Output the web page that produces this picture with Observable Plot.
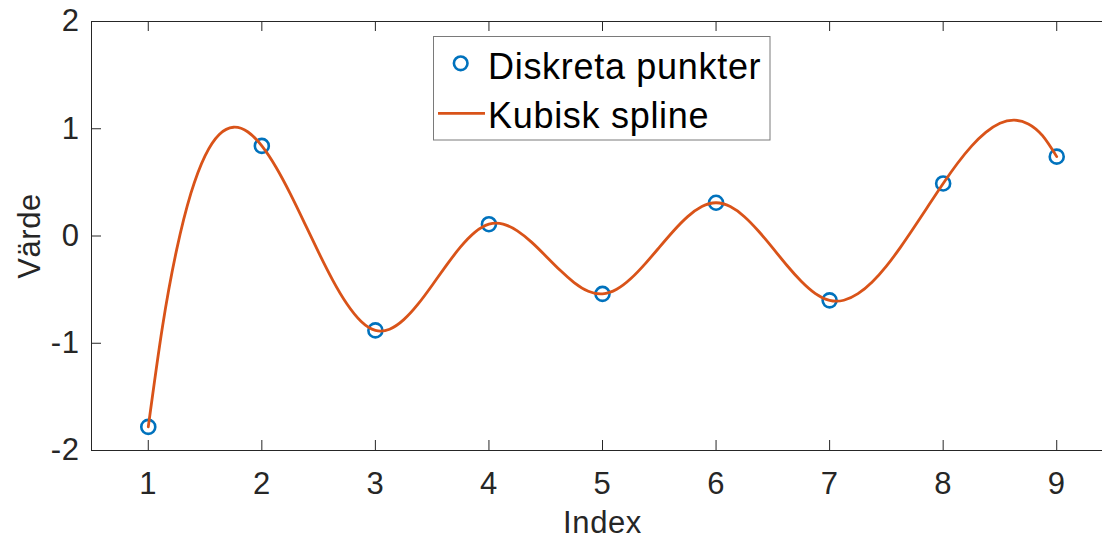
<!DOCTYPE html>
<html>
<head>
<meta charset="utf-8">
<script src="https://cdn.jsdelivr.net/npm/d3@7"></script>
<script src="https://cdn.jsdelivr.net/npm/@observablehq/plot@0.6"></script>
<style>
  html, body { margin: 0; padding: 0; background: #ffffff; }
  #chart { width: 1102px; height: 538px; overflow: hidden; }
</style>
</head>
<body>
<div id="chart"></div>
<script>
// Discrete samples
const pointIndex = [1, 2, 3, 4, 5, 6, 7, 8, 9];
const pointValue = [-1.78, 0.84, -0.88, 0.11, -0.54, 0.31, -0.60, 0.49, 0.74];

// Cubic spline through the samples, evaluated every 1/8 of an index step
const splineX = [1, 1.125, 1.25, 1.375, 1.5, 1.625, 1.75, 1.875,
                 2, 2.125, 2.25, 2.375, 2.5, 2.625, 2.75, 2.875,
                 3, 3.125, 3.25, 3.375, 3.5, 3.625, 3.75, 3.875,
                 4, 4.125, 4.25, 4.375, 4.5, 4.625, 4.75, 4.875,
                 5, 5.125, 5.25, 5.375, 5.5, 5.625, 5.75, 5.875,
                 6, 6.125, 6.25, 6.375, 6.5, 6.625, 6.75, 6.875,
                 7, 7.125, 7.25, 7.375, 7.5, 7.625, 7.75, 7.875,
                 8, 8.125, 8.25, 8.375, 8.5, 8.625, 8.75, 8.875, 9];
const splineY = [-1.78, -0.846, -0.127, 0.397, 0.748, 0.947, 1.014, 0.972,
                 0.84, 0.641, 0.395, 0.123, -0.153, -0.413, -0.634, -0.797,
                 -0.88, -0.869, -0.780, -0.636, -0.459, -0.274, -0.102, 0.034,
                 0.11, 0.111, 0.048, -0.057, -0.186, -0.318, -0.434, -0.515,
                 -0.54, -0.497, -0.397, -0.260, -0.106, 0.047, 0.181, 0.275,
                 0.31, 0.274, 0.180, 0.044, -0.113, -0.275, -0.422, -0.537,
                 -0.60, -0.599, -0.538, -0.429, -0.281, -0.104, 0.090, 0.291,
                 0.49, 0.676, 0.838, 0.966, 1.051, 1.080, 1.045, 0.935, 0.74];

const xTicks = [1, 2, 3, 4, 5, 6, 7, 8, 9];
const yTicks = [-2, -1, 0, 1, 2];
const seriesNames = ["Diskreta punkter", "Kubisk spline"];
const xLabel = "Index";
const yLabel = "Värde";

const pointColor = "#0072BD";
const splineColor = "#D95319";
const ink = "#262626";

const width = 1102, height = 538;
const margin = { top: 21, right: -11, bottom: 88, left: 91 };
const frameW = width - margin.left - margin.right;
const frameH = height - margin.top - margin.bottom;
const tickLen = 10;
const font = "'Liberation Sans', Arial, Helvetica, sans-serif";

const points = pointIndex.map((x, i) => ({ x, y: pointValue[i] }));
const spline = splineX.map((x, i) => ({ x, y: splineY[i] }));

const chart = Plot.plot({
  width, height,
  marginTop: margin.top, marginRight: margin.right,
  marginBottom: margin.bottom, marginLeft: margin.left,
  style: { fontFamily: font, fontSize: "31px", color: ink, background: "#ffffff", overflow: "hidden", letterSpacing: "0.6px" },
  x: { domain: [0.5, 9.5] },
  y: { domain: [-2, 2] },
  marks: [
    Plot.axisX({ ticks: xTicks, tickSize: 0, tickPadding: 21, label: null, tickFormat: d => String(d), fill: ink }),
    Plot.axisY({ ticks: yTicks, tickSize: 0, tickPadding: 12, label: null, tickFormat: d => String(d), fill: ink }),
    // inward ticks: bottom, top and left edges of the box
    Plot.tickX(xTicks, { x: d => d, insetTop: frameH - tickLen, stroke: ink }),
    Plot.tickX(xTicks, { x: d => d, insetBottom: frameH - tickLen, stroke: ink }),
    Plot.tickY(yTicks, { y: d => d, insetRight: frameW - tickLen, stroke: ink }),
    Plot.frame({ stroke: ink }),
    Plot.dot(points, { x: "x", y: "y", r: 7, stroke: pointColor, strokeWidth: 2.6, fill: "none" }),
    Plot.line(spline, { x: "x", y: "y", curve: "natural", stroke: splineColor, strokeWidth: 2.8 }),
    Plot.text([xLabel], { text: d => d, frameAnchor: "bottom", dy: 73, lineAnchor: "middle", textAnchor: "middle", fill: ink }),
    Plot.text([yLabel], { text: d => d, frameAnchor: "left", dx: -61, rotate: -90, lineAnchor: "middle", textAnchor: "middle", fill: ink })
  ]
});

// Legend box in the upper middle of the axes
const svg = d3.select(chart);
const lg = svg.append("g")
  .attr("font-family", font).attr("font-size", 36)
  .attr("text-anchor", "start").style("letter-spacing", "0.7px");
lg.append("rect").attr("x", 433.5).attr("y", 36.5).attr("width", 336.5).attr("height", 103.5)
  .attr("fill", "#ffffff").attr("stroke", "#7a7a7a").attr("stroke-width", 1);
lg.append("circle").attr("cx", 460.7).attr("cy", 63.3).attr("r", 6.8)
  .attr("fill", "none").attr("stroke", pointColor).attr("stroke-width", 2.6);
lg.append("line").attr("x1", 438).attr("x2", 485).attr("y1", 113.3).attr("y2", 113.3)
  .attr("stroke", splineColor).attr("stroke-width", 2.8);
lg.append("text").attr("x", 488).attr("y", 79).attr("fill", "#000").text(seriesNames[0]);
lg.append("text").attr("x", 488).attr("y", 128.3).attr("fill", "#000").text(seriesNames[1]);

document.getElementById("chart").appendChild(chart);
</script>
</body>
</html>
